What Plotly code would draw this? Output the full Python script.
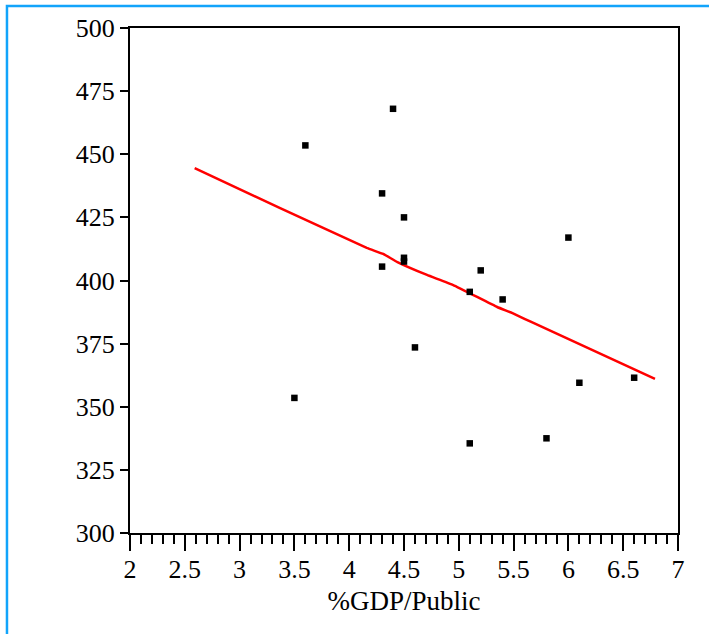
import plotly.graph_objects as go

# Scatter data: %GDP/Public vs score
gdp_public = [3.5, 3.6, 4.4, 4.3, 4.5, 4.5, 4.5, 4.3, 4.6, 5.1, 5.2, 5.4, 6.0, 6.1, 6.6, 5.1, 5.8]
score = [353.5, 453.5, 468, 434.5, 425, 409, 407.5, 405.5, 373.5, 395.5, 404, 392.5, 417, 359.5, 361.5, 335.5, 337.5]

# Fitted (smoothed) line
fit_x = [2.59, 3.37, 4.16, 4.31, 4.44, 4.71, 4.95, 5.35, 5.49, 5.62, 5.74, 6.79]
fit_y = [444.5, 428.7, 412.9, 410.5, 407.3, 402.2, 398.2, 389.5, 387.1, 384.4, 382.0, 361.0]

x_ticks = [2, 2.5, 3, 3.5, 4, 4.5, 5, 5.5, 6, 6.5, 7]
y_ticks = [300, 325, 350, 375, 400, 425, 450, 475, 500]

FONT = "Liberation Serif, Times New Roman, serif"

fig = go.Figure()
fig.add_trace(go.Scatter(
    x=fit_x, y=fit_y, mode="lines",
    line=dict(color="#ff0000", width=2.5, shape="spline", smoothing=0.3),
    hoverinfo="skip", showlegend=False))
fig.add_trace(go.Scatter(
    x=gdp_public, y=score, mode="markers",
    marker=dict(symbol="square", size=6.5, color="black", line=dict(width=0)),
    showlegend=False))

fig.update_layout(
    width=709, height=634,
    margin=dict(l=130, r=31, t=28, b=101),
    paper_bgcolor="white", plot_bgcolor="white",
    font=dict(family=FONT, size=26, color="black"),
    shapes=[dict(type="rect", xref="paper", yref="paper",
                 x0=-0.2245, x1=1.3, y0=-0.4, y1=1.0436,
                 line=dict(color="#12a4fb", width=2.5), layer="below")],
)
fig.update_xaxes(
    range=[2, 7], tickvals=x_ticks, ticktext=[f"{v:g}" for v in x_ticks],
    showgrid=False, zeroline=False,
    showline=True, linecolor="black", linewidth=2, mirror=True,
    ticks="outside", ticklen=16, tickwidth=2, tickcolor="black",
    minor=dict(dtick=0.1, ticks="outside", ticklen=9, tickwidth=2, tickcolor="black", showgrid=False),
    tickfont=dict(family=FONT, size=26),
    ticklabelstandoff=-4,
    title=dict(text="%GDP/Public", font=dict(family=FONT, size=27), standoff=8),
)
fig.update_yaxes(
    range=[300, 500], tickvals=y_ticks,
    showgrid=False, zeroline=False,
    showline=True, linecolor="black", linewidth=2, mirror=True,
    ticks="outside", ticklen=8, tickwidth=2, tickcolor="black",
    tickfont=dict(family=FONT, size=26),
)

fig.write_html("out.html")
